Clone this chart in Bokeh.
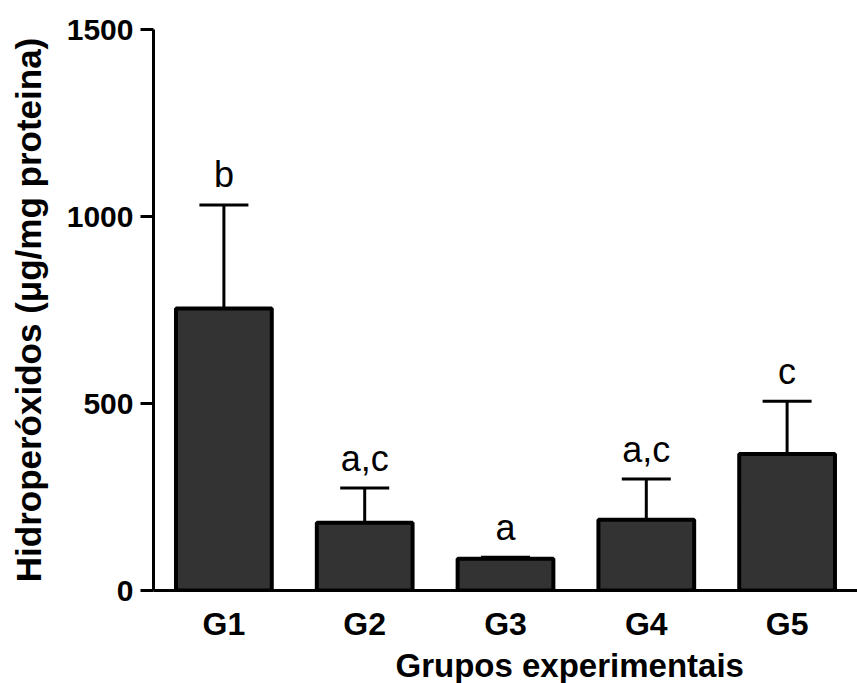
from bokeh.plotting import figure
from bokeh.models import ColumnDataSource, FactorRange, Range1d, Whisker, TeeHead, Title
from bokeh.core.properties import value
from bokeh.embed import file_html
from bokeh.resources import INLINE

groups = ["G1", "G2", "G3", "G4", "G5"]
means = [754, 181, 85, 189, 365]
sds = [277, 93, 4, 109, 141]
letters = ["b", "a,c", "a", "a,c", "c"]
y_ticks = [0, 500, 1000, 1500]

Y_MAX = 1500
FRAME_H = 562
LETTER_GAP_PX = 30
gap = LETTER_GAP_PX * Y_MAX / FRAME_H

upper = [m + s for m, s in zip(means, sds)]
letter_y = [u + gap for u in upper]
src = ColumnDataSource(dict(x=groups, mean=means, upper=upper, lower=means,
                            letter=letters, letter_y=letter_y))

p = figure(width=857, height=683, x_range=FactorRange(*groups, range_padding=0),
           y_range=Range1d(0, Y_MAX), output_backend="svg", toolbar_location=None,
           min_border_left=153, min_border_right=0, min_border_top=29, min_border_bottom=92)
p.outline_line_color = None
p.xgrid.grid_line_color = None
p.ygrid.grid_line_color = None
p.background_fill_color = "white"
p.border_fill_color = "white"

p.vbar(x="x", top="mean", width=0.68, source=src, fill_color="#333333",
       line_color="black", line_width=4)

w = Whisker(source=src, base="x", upper="upper", lower="lower", line_width=3,
            line_color="black",
            upper_head=TeeHead(size=49, line_width=3, line_color="black"), lower_head=None)
p.add_layout(w)

p.text(x="x", y="letter_y", text="letter", source=src,
       text_align="center", text_baseline="alphabetic",
       text_font=value("Liberation Sans"), text_font_size="36px", text_color="black")

# y axis
ya = p.yaxis[0]
ya.ticker = y_ticks
ya.axis_line_width = 3
ya.major_tick_line_width = 3
ya.major_tick_out = 13
ya.major_tick_in = 0
ya.minor_tick_line_color = None
ya.major_label_standoff = 7
ya.major_label_text_font = "Liberation Sans"
ya.major_label_text_font_style = "bold"
ya.major_label_text_font_size = "30px"
ya.major_label_text_color = "black"
ya.axis_label = "Hidroperóxidos (μg/mg proteina)"
ya.axis_label_text_font = "Liberation Sans"
ya.axis_label_text_font_style = "bold"
ya.axis_label_text_font_size = "35px"
ya.axis_label_text_color = "black"
ya.axis_label_standoff = 16

# x axis
xa = p.xaxis[0]
xa.axis_line_width = 3
xa.major_tick_line_color = None
xa.major_tick_out = 0
xa.major_tick_in = 0
xa.minor_tick_line_color = None
xa.major_label_standoff = 15
xa.major_label_text_font = "Liberation Sans"
xa.major_label_text_font_style = "bold"
xa.major_label_text_font_size = "32px"
xa.major_label_text_color = "black"

xtitle = Title(text="Grupos experimentais", align="left", offset=242, standoff=0,
               text_font="Liberation Sans", text_font_style="bold",
               text_font_size="33px", text_color="black")
p.add_layout(xtitle, "below")

open("out.html", "w").write(file_html(p, INLINE))
